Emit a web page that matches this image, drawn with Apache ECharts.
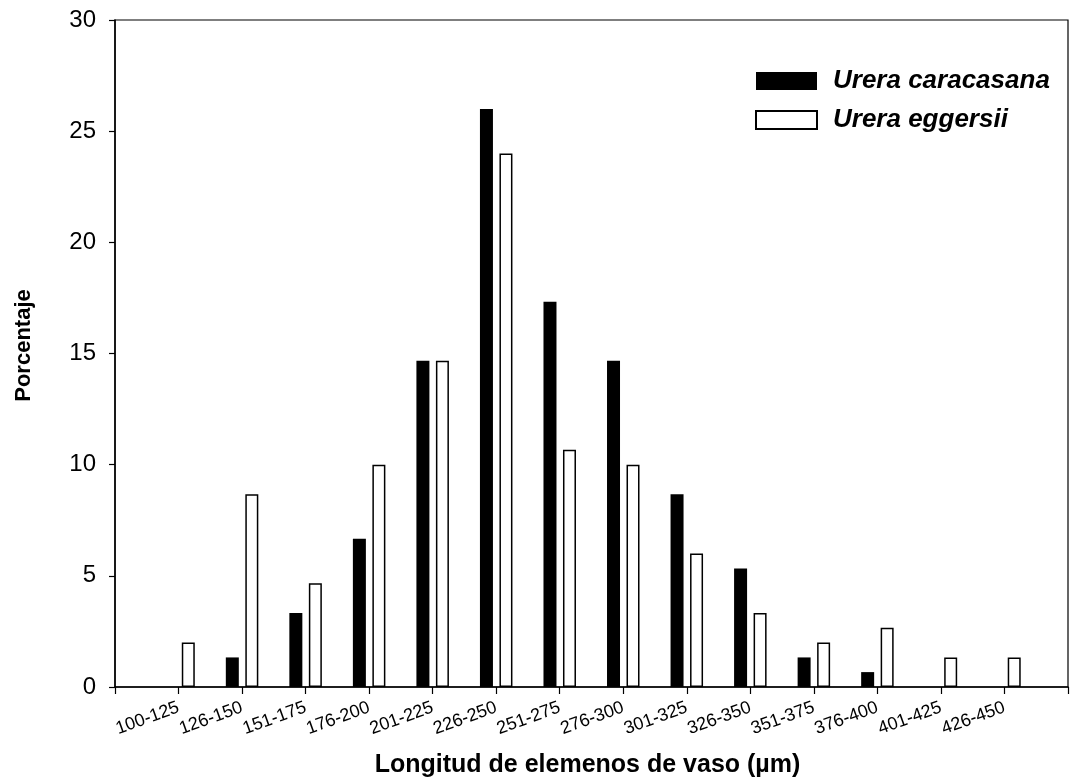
<!DOCTYPE html>
<html>
<head>
<meta charset="utf-8">
<script src="https://cdn.jsdelivr.net/npm/echarts@6/dist/echarts.min.js"></script>
<style>html,body{margin:0;padding:0;background:#fff}#c{width:1071px;height:783px}</style>
</head>
<body>
<div id="c"></div>
<script>
var categories = ['100-125','126-150','151-175','176-200','201-225','226-250','251-275','276-300','301-325','326-350','351-375','376-400','401-425','426-450'];
var caracasana = [0, 1.33, 3.33, 6.67, 14.67, 26, 17.33, 14.67, 8.67, 5.33, 1.33, 0.67, 0, 0];
var eggersii = [2, 8.67, 4.67, 10, 14.67, 24, 10.67, 10, 6, 3.33, 2, 2.67, 1.33, 1.33];
var yTicks = {min: 0, max: 30, interval: 5};

var FONT = '"Liberation Sans", Arial, sans-serif';
var axisData = [''].concat(categories, ['']);
function pad(arr){ return [null].concat(arr, [null]); }

var chart = echarts.init(document.getElementById('c'), null, {renderer: 'canvas'});
chart.setOption({
  animation: false,
  backgroundColor: '#fff',
  textStyle: {fontFamily: FONT, color: '#000'},
  grid: {left: 115, right: 3, top: 20, bottom: 96, containLabel: false, outerBoundsMode: 'none',
         show: true, borderColor: '#000', borderWidth: 1.2, backgroundColor: 'transparent'},
  legend: {
    orient: 'vertical', left: 755, top: 67, padding: 0,
    icon: 'rect',
    itemWidth: 61, itemHeight: 18, itemGap: 11,
    textStyle: {fontFamily: FONT, fontSize: 26, fontWeight: 'bold', fontStyle: 'italic', color: '#000', padding: [0,0,0,11], lineHeight: 28},
    data: ['Urera caracasana', 'Urera eggersii']
  },
  xAxis: {
    type: 'category', data: axisData, boundaryGap: false,
    name: 'Longitud de elemenos de vaso (µm)', nameLocation: 'middle', nameGap: 66,
    nameTextStyle: {fontFamily: FONT, fontSize: 25, fontWeight: 'bold', color: '#000', padding: [0, 8, 0, 0]},
    axisLine: {lineStyle: {color: '#000', width: 1.5}},
    axisTick: {show: true, length: 7, inside: false, interval: 0, lineStyle: {color: '#000', width: 1.2}},
    axisLabel: {interval: 0, rotate: 20, margin: 20, fontSize: 18, fontFamily: FONT, color: '#000'},
    splitLine: {show: false}
  },
  yAxis: {
    type: 'value', min: yTicks.min, max: yTicks.max, interval: yTicks.interval,
    name: 'Porcentaje', nameLocation: 'middle', nameGap: 80,
    nameTextStyle: {fontFamily: FONT, fontSize: 22, fontWeight: 'bold', color: '#000', padding: [0, 0, 0, 16]},
    axisLine: {show: true, lineStyle: {color: '#000', width: 1.5}},
    axisTick: {show: true, length: 6, lineStyle: {color: '#000', width: 1.2}},
    axisLabel: {fontSize: 24, margin: 19, fontFamily: FONT, color: '#000'},
    splitLine: {show: false}
  },
  series: [
    {name: 'Urera caracasana', type: 'bar', data: pad(caracasana), barWidth: 13, barGap: '50%',
     itemStyle: {color: '#000', borderColor: '#000', borderWidth: 0}},
    {name: 'Urera eggersii', type: 'bar', data: pad(eggersii), barWidth: 13, barGap: '50%',
     itemStyle: {color: '#fff', borderColor: '#000', borderWidth: 1.5}}
  ]
});
</script>
</body>
</html>
